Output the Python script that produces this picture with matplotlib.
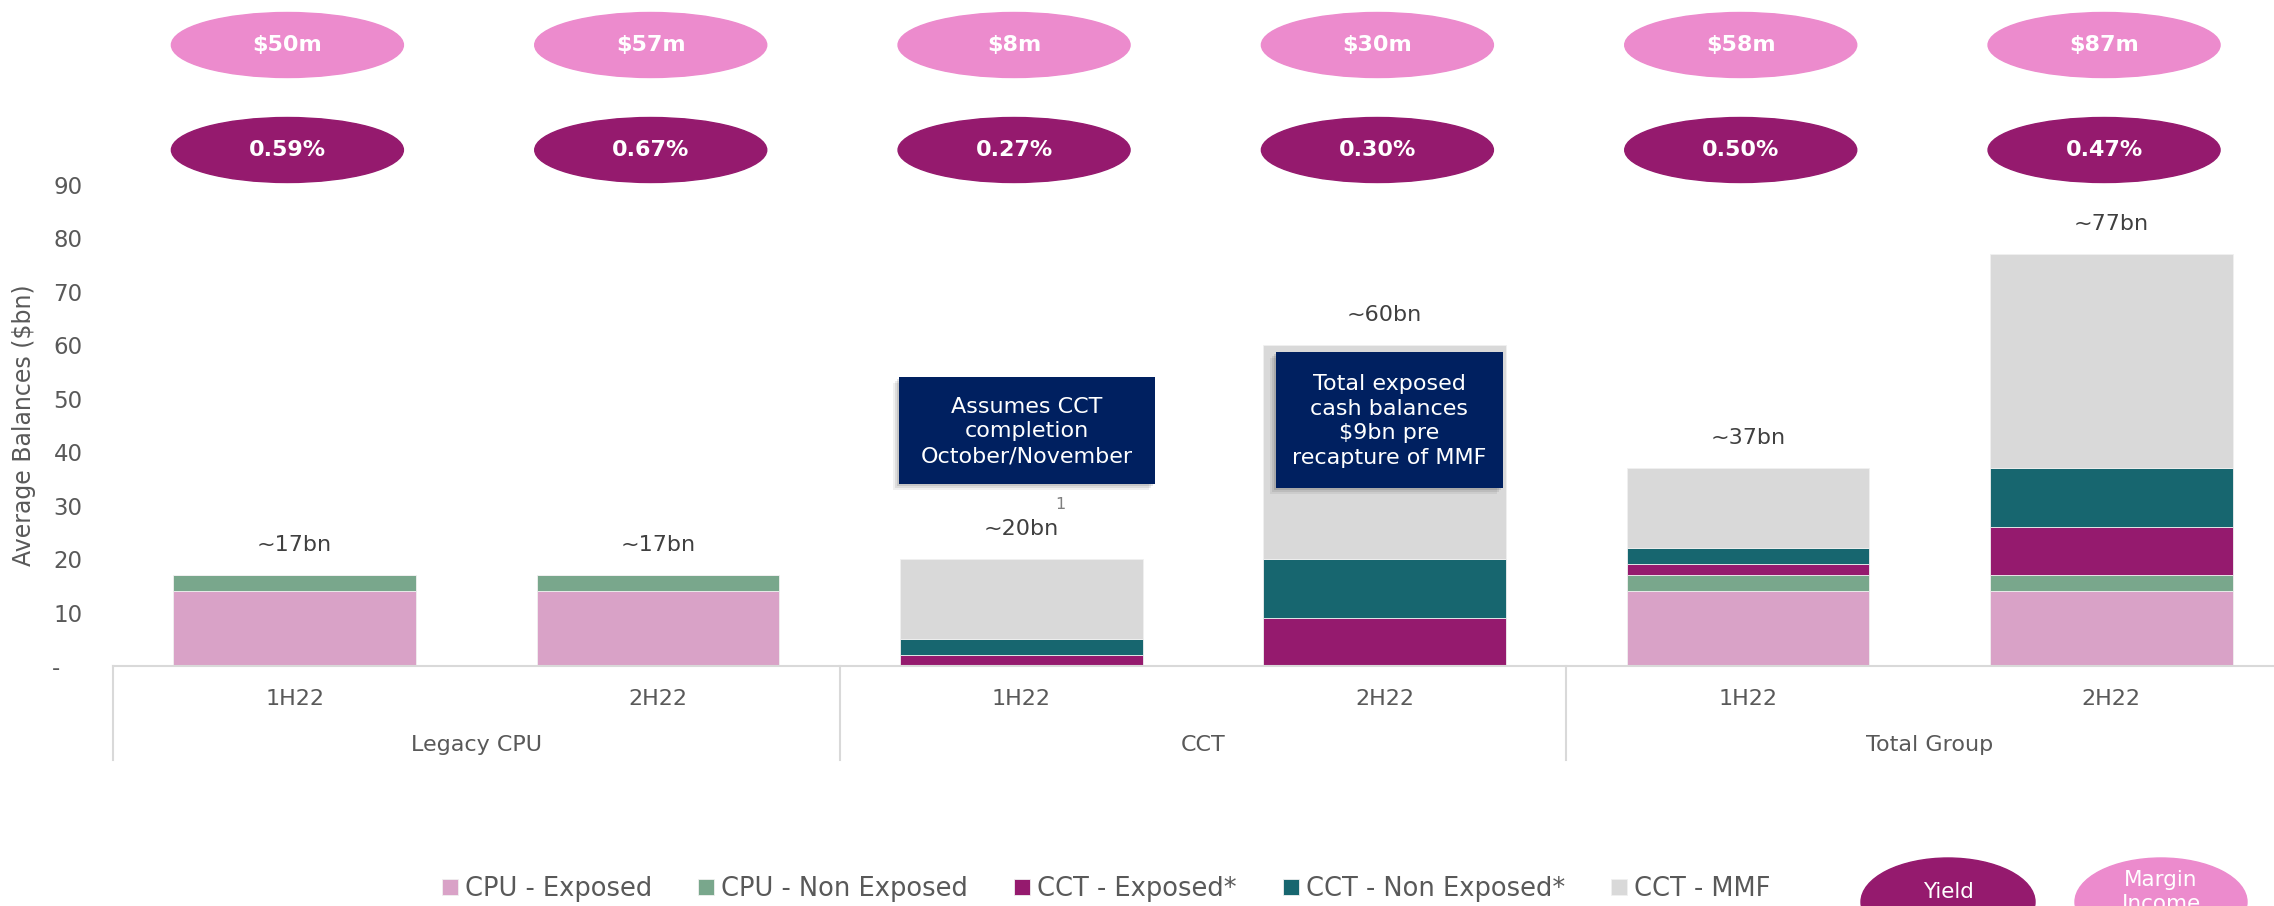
import matplotlib.pyplot as plt
import matplotlib.transforms as mtransforms
from matplotlib.patches import Ellipse, Rectangle
import numpy as np

plt.rcParams['font.family'] = ['DejaVu Sans']

# ---- data ----
periods = ['1H22', '2H22', '1H22', '2H22', '1H22', '2H22']
groups = ['Legacy CPU', 'CCT', 'Total Group']
cpu_exposed = [14, 14, 0, 0, 14, 14]
cpu_non_exposed = [3, 3, 0, 0, 3, 3]
cct_exposed = [0, 0, 2, 9, 2, 9]
cct_non_exposed = [0, 0, 3, 11, 3, 11]
cct_mmf = [0, 0, 15, 40, 15, 40]
total_labels = ['~17bn', '~17bn', '~20bn', '~60bn', '~37bn', '~77bn']
margin_income = ['$50m', '$57m', '$8m', '$30m', '$58m', '$87m']
yields = ['0.59%', '0.67%', '0.27%', '0.30%', '0.50%', '0.47%']
series_names = ['CPU - Exposed', 'CPU - Non Exposed', 'CCT - Exposed*',
                'CCT - Non Exposed*', 'CCT - MMF']
series_colors = ['#D9A2C7', '#79A78C', '#951A6E', '#17666F', '#D9D9D9']

PINK = '#EC8BCD'
PURPLE = '#951A6E'
NAVY = '#002060'
GREY_TXT = '#595959'

W, H = 2274, 906
fig = plt.figure(figsize=(W / 100, H / 100), dpi=100)

def fx(px):
    return px / W

def fy(py):
    return 1 - py / H

ax = fig.add_axes([fx(113), fy(666), fx(2293) - fx(113), fy(185) - fy(666)])

x = np.arange(len(periods))
series = [cpu_exposed, cpu_non_exposed, cct_exposed, cct_non_exposed, cct_mmf]
bottom = np.zeros(len(periods))
handles = []
for vals, name, col in zip(series, series_names, series_colors):
    vals = np.array(vals, dtype=float)
    b = ax.bar(x, vals, width=0.667, bottom=bottom, color=col, label=name,
               edgecolor='#f0f0f0', linewidth=0.6, zorder=2)
    handles.append(b)
    bottom += vals

# total labels above the bars
for i, (tot, lab) in enumerate(zip(bottom, total_labels)):
    ax.annotate(lab, (i, tot), xytext=(0, 22), textcoords='offset points',
                ha='center', va='center', fontsize=16, color='#404040')
# footnote marker on CCT 1H22
ax.annotate('1', (2, bottom[2]), xytext=(28, 39), textcoords='offset points',
            ha='center', va='center', fontsize=11.5, color='#7F7F7F')

ax.set_xlim(-0.5, 5.5)
ax.set_ylim(0, 90)
ax.set_yticks(np.arange(0, 91, 10))
ax.set_yticklabels(['-   '] + [str(v) for v in range(10, 91, 10)])
ax.tick_params(axis='y', length=0, pad=22, labelsize=16.5, labelcolor=GREY_TXT)
ax.set_xticks([])
for s in ['top', 'right', 'left']:
    ax.spines[s].set_visible(False)
ax.spines['bottom'].set_color('#D9D9D9')
ax.spines['bottom'].set_linewidth(1.5)
ax.set_ylabel('Average Balances ($bn)', fontsize=17, color=GREY_TXT, labelpad=12)

# multi-level category axis
xa = mtransforms.blended_transform_factory(ax.transData, ax.transAxes)
for sep in [-0.5, 1.5, 3.5, 5.5]:
    ax.plot([sep, sep], [0, -0.195], transform=xa, color='#D9D9D9', lw=1.5,
            clip_on=False)
for i, p in enumerate(periods):
    ax.text(i, -0.0686, p, transform=xa, ha='center', va='center',
            fontsize=16, color=GREY_TXT)
for g, name in enumerate(groups):
    ax.text(2 * g + 0.5, -0.164, name, transform=xa, ha='center', va='center',
            fontsize=16, color=GREY_TXT)

# margin income / yield ellipses above each bar
xf = mtransforms.blended_transform_factory(ax.transData, fig.transFigure)
ew = 232 / 363.3
eh = 65 / H
for i in range(len(periods)):
    cx = i - 0.02
    fig.add_artist(Ellipse((cx, fy(45)), ew, eh, transform=xf, color=PINK, zorder=3))
    fig.add_artist(Ellipse((cx, fy(150)), ew, eh, transform=xf, color=PURPLE, zorder=3))
    fig.text(cx, fy(45), margin_income[i], transform=xf, ha='center', va='center',
             color='white', fontsize=16, fontweight='bold', zorder=6)
    fig.text(cx, fy(150), yields[i], transform=xf, ha='center', va='center',
             color='white', fontsize=16, fontweight='bold', zorder=6)

# navy callout boxes
def callout(x0, y0, x1, y1, text):
    for k, a in [(6, 0.06), (4, 0.08), (2, 0.1)]:
        fig.add_artist(Rectangle((fx(x0 - k), fy(y1 + k)), fx(x1 - x0), (y1 - y0) / H,
                                 transform=fig.transFigure, color='black',
                                 alpha=a, lw=0, zorder=4))
    fig.add_artist(Rectangle((fx(x0), fy(y1)), fx(x1 - x0), (y1 - y0) / H,
                             transform=fig.transFigure, color=NAVY, lw=0, zorder=5))
    fig.text(fx((x0 + x1) / 2), fy((y0 + y1) / 2 + 1), text, ha='center', va='center',
             color='white', fontsize=16, linespacing=1.3, zorder=6)

callout(899, 377, 1155, 484, 'Assumes CCT\ncompletion\nOctober/November')
callout(1276, 352, 1503, 488, 'Total exposed\ncash balances\n$9bn pre\nrecapture of MMF')

# legend
fig.legend(handles=handles, labels=series_names, loc='center left',
           bbox_to_anchor=(fx(442), fy(889)), ncol=5, frameon=False,
           fontsize=18.5, labelcolor=GREY_TXT, handlelength=0.62, handleheight=0.62,
           handletextpad=0.27, columnspacing=1.8, borderpad=0, borderaxespad=0)

# key ellipses at bottom right
fig.add_artist(Ellipse((fx(1948), fy(902)), fx(174), 88 / H,
                       transform=fig.transFigure, color=PURPLE, zorder=3))
fig.add_artist(Ellipse((fx(2161), fy(902)), fx(172), 88 / H,
                       transform=fig.transFigure, color=PINK, zorder=3))
fig.text(fx(1948), fy(892), 'Yield', ha='center', va='center', color='white',
         fontsize=15.5, zorder=6)
fig.text(fx(2161), fy(892), 'Margin\nIncome', ha='center', va='center',
         color='white', fontsize=15.5, linespacing=1.3, zorder=6)

fig.savefig('out.png', dpi=100)
